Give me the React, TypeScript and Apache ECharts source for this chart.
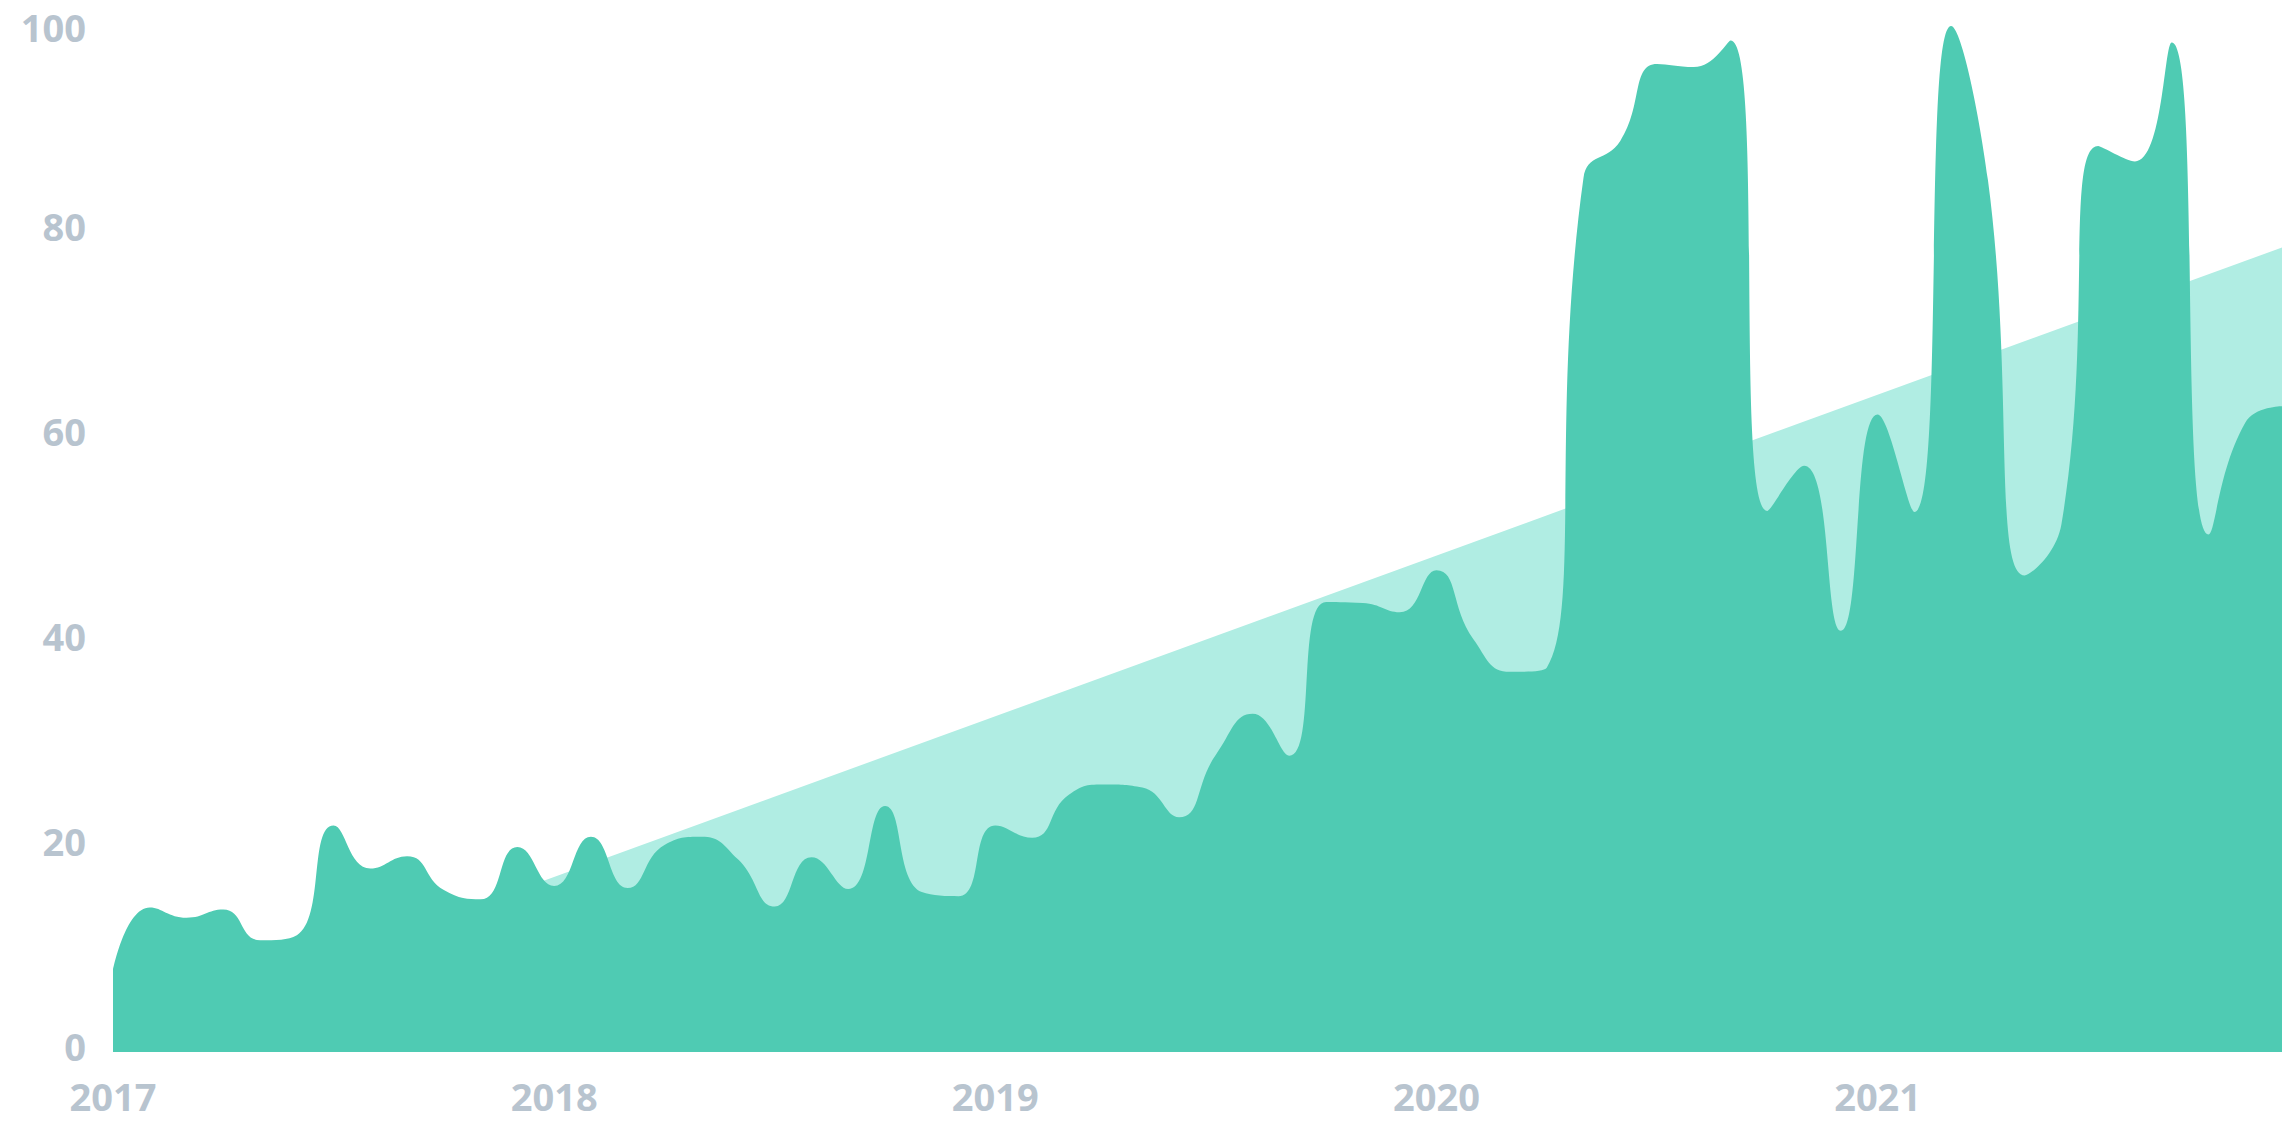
import React, { useEffect, useRef } from "react";
import * as echarts from "echarts";

const months: string[] = [
  "2017-01", "2017-02", "2017-03", "2017-04", "2017-05", "2017-06", "2017-07", "2017-08", "2017-09", "2017-10", "2017-11", "2017-12",
  "2018-01", "2018-02", "2018-03", "2018-04", "2018-05", "2018-06", "2018-07", "2018-08", "2018-09", "2018-10", "2018-11", "2018-12",
  "2019-01", "2019-02", "2019-03", "2019-04", "2019-05", "2019-06", "2019-07", "2019-08", "2019-09", "2019-10", "2019-11", "2019-12",
  "2020-01", "2020-02", "2020-03", "2020-04", "2020-05", "2020-06", "2020-07", "2020-08", "2020-09", "2020-10", "2020-11", "2020-12",
  "2021-01", "2021-02", "2021-03", "2021-04", "2021-05", "2021-06", "2021-07", "2021-08", "2021-09", "2021-10", "2021-11", "2021-12",
];

const values: number[] = [
  7.4, 13.5, 12.5, 13.3, 10.3, 10.8, 21.5, 17.3, 18.5, 15.2, 14.3, 19.4,
  15.6, 20.4, 15.4, 19.6, 20.4, 18.2, 13.6, 18.4, 15.3, 23.4, 15.0, 14.6,
  21.5, 20.3, 24.5, 25.5, 25.2, 22.3, 28.4, 32.4, 28.3, 43.3, 43.2, 42.3,
  46.4, 39.7, 36.5, 36.9, 84.7, 88.3, 95.8, 95.5, 98.1, 52.2, 56.6, 40.5,
  61.6, 52.1, 99.5, 84.5, 45.9, 50.9, 87.8, 86.3, 97.9, 49.9, 60.8, 62.4,
];

// straight trend line: start and end values
const trendMonths: string[] = ["2017-01", "2021-12"];
const trendValues: number[] = [0.8, 77.9];

const yTicks: number[] = [0, 20, 40, 60, 80, 100];

export default function App() {
  const ref = useRef<HTMLDivElement>(null);

  useEffect(() => {
    if (!ref.current) return;
    const chart = echarts.init(ref.current, null, { renderer: "svg" });
    const labelStyle = {
      color: "#b8c4cf",
      fontFamily: "'Open Sans', sans-serif",
      fontWeight: 700 as const,
      fontSize: 38,
    };
    chart.setOption({
      animation: false,
      backgroundColor: "#ffffff",
      grid: { left: 113, right: 8, top: 21, bottom: 93, containLabel: false },
      xAxis: {
        type: "category",
        data: months,
        boundaryGap: false,
        axisLine: { show: false, onZero: false },
        axisTick: { show: false },
        splitLine: { show: false },
        axisLabel: {
          ...labelStyle,
          interval: 11,
          margin: 25,
          formatter: (v: string) => v.slice(0, 4),
        },
      },
      yAxis: {
        type: "value",
        min: -0.6,
        max: 100,
        splitNumber: 5,
        axisLine: { show: false },
        axisTick: { show: false },
        splitLine: { show: false },
        axisLabel: {
          ...labelStyle,
          margin: 27,
          formatter: (v: number) => {
            if (yTicks.indexOf(v) < 0) return "";
            return v === 100 ? "{top|" + v + "}" : String(v);
          },
          rich: {
            top: { ...labelStyle, padding: [12, 0, 0, 0] },
          },
        },
      },
      series: [
        {
          type: "line",
          data: trendMonths.map((m, i) => [m, trendValues[i]]),
          showSymbol: false,
          lineStyle: { width: 0 },
          areaStyle: { color: "#b0ede3", opacity: 1, origin: "start" },
          z: 1,
        },
        {
          type: "line",
          data: values,
          smooth: 0.5,
          showSymbol: false,
          lineStyle: { width: 0 },
          areaStyle: { color: "#4fcbb3", opacity: 1, origin: "start" },
          z: 2,
        },
      ],
    });
    return () => chart.dispose();
  }, []);

  return (
    <div
      ref={ref}
      style={{ position: "fixed", left: 0, top: 0, width: 2290, height: 1145 }}
    />
  );
}
